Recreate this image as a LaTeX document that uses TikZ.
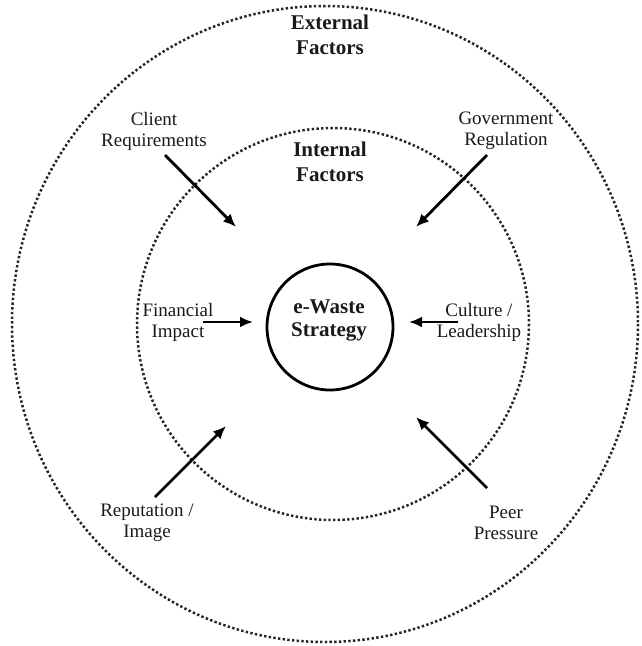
\documentclass[tikz,border=0pt]{standalone}
\usepackage{fontspec}
\setmainfont{Liberation Serif}
\usetikzlibrary{arrows.meta}

\tikzset{
  ring/.style={draw=black!85, line width=2.5pt, dash pattern=on 2.4pt off 2.3pt},
  core/.style={circle, draw=black, line width=2.8pt, minimum size=126pt, inner sep=0pt},
  factor/.style={align=center, font=\fontsize{19}{21}\selectfont, inner sep=0pt, text=black!90},
  heading/.style={align=center, font=\bfseries\fontsize{21}{25}\selectfont, inner sep=0pt, text=black!90},
  push/.style={line width=2.8pt, -{Latex[length=13pt,width=11pt]}}
}

\begin{document}
\begin{tikzpicture}[x=1pt, y=-1pt]
  \useasboundingbox (0,0) rectangle (641,646);

  % the two factor rings
  \draw[ring] (325,324) ellipse [x radius=313, y radius=318];
  \draw[ring] (333,324) circle [radius=196];

  % central strategy
  \node[core] (strategy) at (330,327) {};
  \node[heading, font=\bfseries\fontsize{21}{23}\selectfont] (strategytext) at (329,320) {e-Waste\\Strategy};

  % ring headings
  \node[heading] (external) at (330,35) {External\\Factors};
  \node[heading] (internal) at (330,162) {Internal\\Factors};

  % external factors
  \node[factor] (client) at (154,131) {Client\\Requirements};
  \node[factor] (govt) at (506,131) {Government\\Regulation};
  \node[factor] (reputation) at (147,523) {Reputation /\\Image};
  \node[factor] (peer) at (506,523) {Peer\\Pressure};

  % internal factors
  \node[factor] (finance) at (178,322) {Financial\\Impact};
  \node[factor] (culture) at (479,322) {Culture /\\Leadership};

  % arrow ends
  \coordinate (clientA) at (165,155);  \coordinate (clientB) at (236,227);
  \coordinate (govtA) at (487,155);    \coordinate (govtB) at (416,227);
  \coordinate (repA) at (155,497);     \coordinate (repB) at (226,426);
  \coordinate (peerA) at (487,488);    \coordinate (peerB) at (416,417);
  \coordinate (finA) at (203,322);     \coordinate (finB) at (253,322);
  \coordinate (culA) at (458,322);     \coordinate (culB) at (409,322);

  \draw[push] (clientA) -- (clientB);
  \draw[push] (govtA) -- (govtB);
  \draw[push] (repA) -- (repB);
  \draw[push] (peerA) -- (peerB);
  \draw[push] (finA) -- (finB);
  \draw[push] (culA) -- (culB);
\end{tikzpicture}
\end{document}
